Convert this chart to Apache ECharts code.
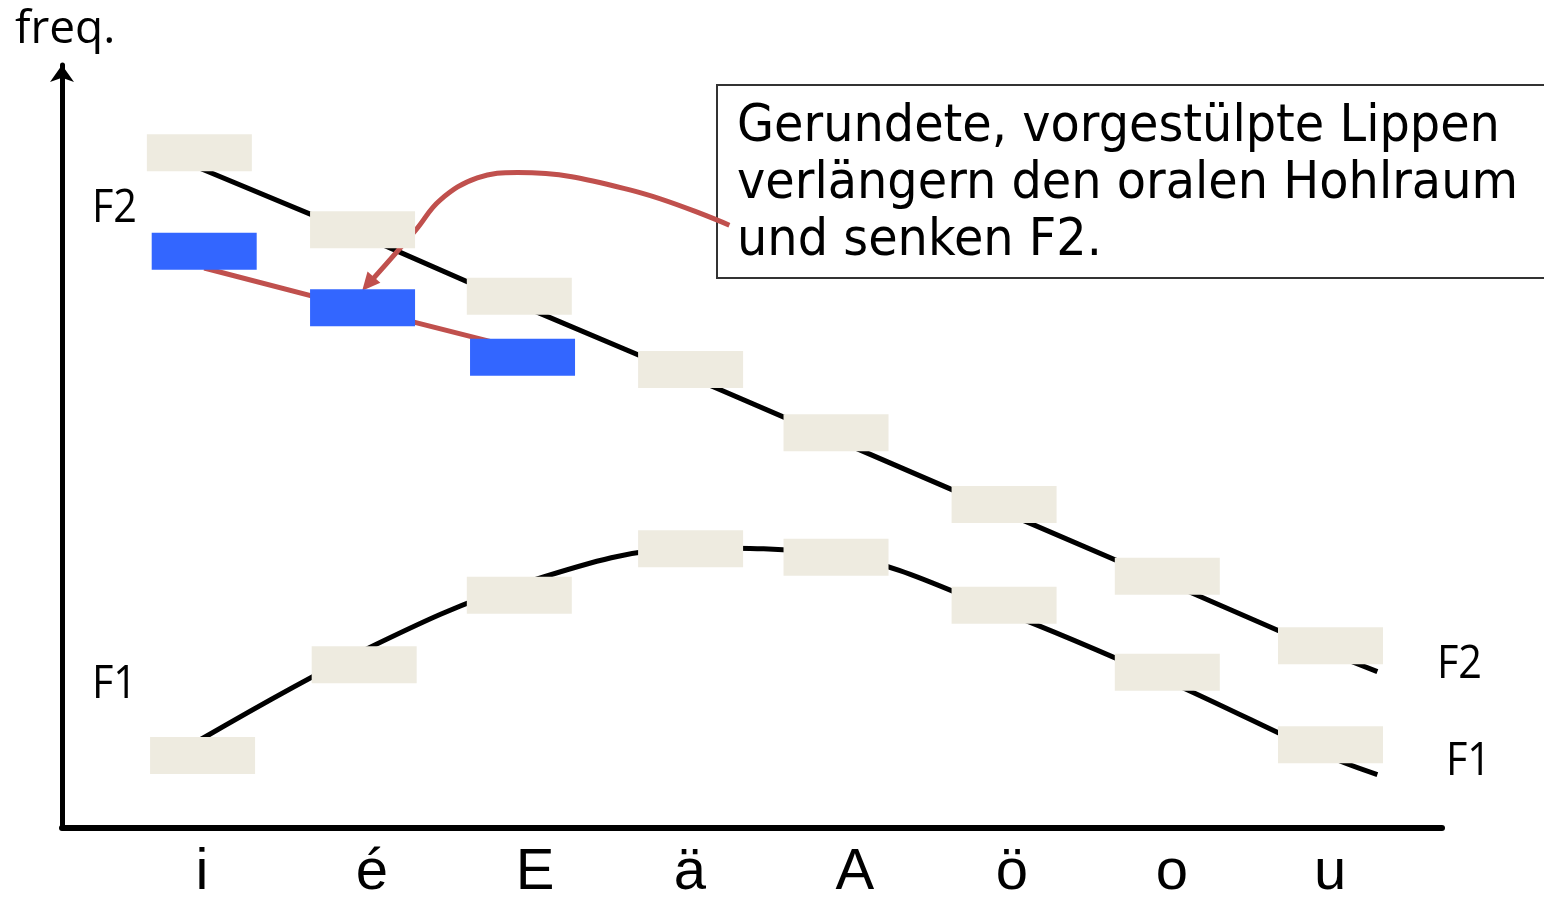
<!DOCTYPE html>
<html>
<head>
<meta charset="utf-8">
<script src="https://cdn.jsdelivr.net/npm/echarts@6/dist/echarts.min.js"></script>
<style>
  html, body { margin: 0; padding: 0; background: #fff; }
  #chart { width: 1544px; height: 898px; }
</style>
</head>
<body>
<div id="chart"></div>
<script>
// vowels on the x axis and where their labels sit
const vowels = ['i', 'é', 'E', 'ä', 'A', 'ö', 'o', 'u'];
const labelX = [1.016, 2.068, 3.077, 4.036, 5.057, 6.029, 7.019, 7.997];

// formant boxes (x position, height)
const f2RectX = [1.0, 2.01, 2.98, 4.04, 4.94, 5.98, 6.99, 8.0];
const f2Rect = [88.5, 78.4, 69.7, 60.1, 51.8, 42.4, 33.0, 23.9];
const f1RectX = [1.02, 2.02, 2.98, 4.04, 4.94, 5.98, 6.99, 8.0];
const f1Rect = [9.5, 21.4, 30.5, 36.6, 35.5, 29.2, 20.4, 10.9];
const roundRectX = [1.03, 2.01, 3.0];
const roundRect = [75.6, 68.2, 61.7];

// formant trajectories
const f2LineX = [1.0, 2.01, 2.98, 4.04, 4.94, 5.98, 6.99, 8.0, 8.29];
const f2Line = [86.5, 77.6, 68.6, 59.1, 50.9, 41.4, 32.2, 22.9, 20.5];
const f1LineX = [1.0, 2.02, 2.98, 4.04, 4.94, 5.98, 6.99, 8.0, 8.29];
const f1Line = [11.5, 23.3, 31.9, 36.7, 35.8, 28.3, 19.3, 9.3, 7.0];
const roundLineX = [1.03, 2.01, 3.0];
const roundLine = [73.4, 68.0, 62.7];

// annotation arrow
const arrowX = [4.28, 3.67, 2.97, 2.72, 2.49, 2.34, 2.08];
const arrowY = [79.0, 83.6, 85.9, 85.2, 82.3, 78.4, 72.1];
const arrowTip = [2.044, 71.3];

const zip = (xs, ys) => xs.map((x, i) => [x, ys[i]]);

const RED = '#C0504D';
const BEIGE = '#EEEBE0';
const BLUE = '#3366FF';

const chart = echarts.init(document.getElementById('chart'));

const rectSeries = (xs, ys, color) => ({
    type: 'scatter',
    data: zip(xs, ys),
    symbol: 'rect',
    symbolSize: [105, 37],
    itemStyle: { color: color, opacity: 1 },
    z: 6,
    silent: true
});

const sideText = (text, x, y, scaleX) => ({
    type: 'text',
    x: x,
    y: y,
    scaleX: scaleX,
    style: {
        text: text,
        fontFamily: 'Open Sans',
        fontSize: 46,
        fill: '#000',
        verticalAlign: 'middle'
    }
});

chart.setOption({
    animation: false,
    grid: { left: 62, right: 102, top: 65, bottom: 70, outerBoundsMode: 'none' },
    xAxis: {
        type: 'value',
        min: 0.15,
        max: 8.69,
        splitLine: { show: false },
        axisTick: { show: false },
        axisLine: { lineStyle: { color: '#000', width: 6 } },
        axisLabel: {
            customValues: labelX,
            margin: 16,
            fontFamily: 'Liberation Sans',
            fontSize: 58,
            lineHeight: 58,
            color: '#000',
            formatter: (v) => {
                let best = 0;
                labelX.forEach((x, i) => {
                    if (Math.abs(x - v) < Math.abs(labelX[best] - v)) best = i;
                });
                return vowels[best];
            }
        }
    },
    yAxis: {
        type: 'value',
        min: 0,
        max: 100,
        splitLine: { show: false },
        axisTick: { show: false },
        axisLabel: { show: false },
        axisLine: {
            show: true,
            symbol: ['none', 'arrow'],
            symbolSize: [18, 17],
            lineStyle: { color: '#000', width: 5 }
        }
    },
    graphic: [
        {
            type: 'rect',
            shape: { x: 717, y: 85, width: 900, height: 193 },
            style: { fill: '#fff', stroke: '#333', lineWidth: 2 }
        },
        {
            type: 'text',
            x: 737,
            y: 99,
            scaleX: 0.92,
            style: {
                text: 'Gerundete, vorgestülpte Lippen\nverlängern den oralen Hohlraum\nund senken F2.',
                fontFamily: 'DejaVu Sans',
                fontSize: 52,
                lineHeight: 57,
                fill: '#000',
                verticalAlign: 'top'
            }
        },
        sideText('freq.', 15, 30, 1),
        sideText('F2', 92, 209, 0.9),
        sideText('F1', 92, 685, 0.9),
        sideText('F2', 1437, 665, 0.9),
        sideText('F1', 1446, 762, 0.9)
    ],
    series: [
        {
            type: 'line',
            data: zip(f2LineX, f2Line),
            symbol: 'none',
            lineStyle: { color: '#000', width: 5 },
            z: 2
        },
        {
            type: 'line',
            data: zip(f1LineX, f1Line),
            symbol: 'none',
            smooth: 0.35,
            lineStyle: { color: '#000', width: 5 },
            z: 2
        },
        {
            type: 'line',
            data: zip(roundLineX, roundLine),
            symbol: 'none',
            lineStyle: { color: RED, width: 5 },
            z: 3
        },
        {
            type: 'line',
            data: zip(arrowX, arrowY),
            symbol: 'none',
            smooth: 0.4,
            lineStyle: { color: RED, width: 5 },
            z: 3
        },
        {
            type: 'scatter',
            data: [arrowTip],
            symbol: 'triangle',
            symbolSize: [17, 18],
            symbolRotate: 139,
            itemStyle: { color: RED, opacity: 1 },
            z: 4
        },
        rectSeries(f2RectX, f2Rect, BEIGE),
        rectSeries(f1RectX, f1Rect, BEIGE),
        rectSeries(roundRectX, roundRect, BLUE)
    ]
});
</script>
</body>
</html>
